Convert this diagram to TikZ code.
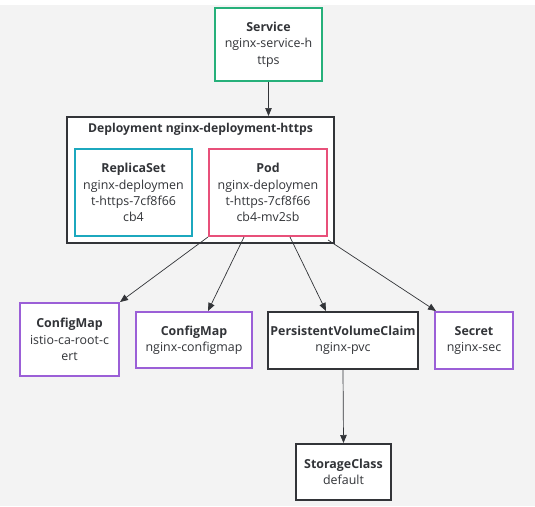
\documentclass[tikz,border=0pt]{standalone}
\usepackage{fontspec}
\setmainfont{Open Sans}
\usetikzlibrary{arrows.meta}
\definecolor{bg}{RGB}{243,243,243}
\definecolor{txt}{RGB}{50,52,56}
\definecolor{dark}{RGB}{50,52,56}
\definecolor{svcgreen}{RGB}{38,176,122}
\definecolor{rsteal}{RGB}{28,168,190}
\definecolor{podpink}{RGB}{232,80,122}
\definecolor{cmpurple}{RGB}{155,95,215}
\tikzset{
  box/.style={draw, line width=2pt, fill=white, text=txt, align=center,
    inner sep=0pt, font=\fontsize{12.4}{16.3}\selectfont},
  conn/.style={draw=dark, line width=0.7pt, -{Triangle[length=8pt,width=6.5pt]}},
}
\begin{document}
\begin{tikzpicture}[x=1pt,y=-1pt]
\fill[bg] (0,0) rectangle (535,506);
\fill[white] (0,0) rectangle (535,5);
\useasboundingbox (0,0) rectangle (535,506);

\node[box, draw=svcgreen, minimum width=107pt, minimum height=73pt] (svc) at (268.5,44.5)
  {\textbf{Service}\\nginx-service-h\\ttps};

\node[box, draw=dark, minimum width=267pt, minimum height=126pt] (dep) at (200.5,180) {};
\node[text=txt, font=\fontsize{12.2}{16}\selectfont\bfseries, inner sep=0pt] (deptitle) at (200.5,129.5)
  {Deployment nginx-deployment-https};

\node[box, draw=rsteal, minimum width=117pt, minimum height=87pt] (rs) at (133.5,192.5)
  {\textbf{ReplicaSet}\\nginx-deploymen\\t-https-7cf8f66\\cb4};
\node[box, draw=podpink, minimum width=118pt, minimum height=87pt] (pod) at (268,192.5)
  {\textbf{Pod}\\nginx-deploymen\\t-https-7cf8f66\\cb4-mv2sb};

\node[box, draw=cmpurple, minimum width=99pt, minimum height=73pt] (cm1) at (69.5,339.5)
  {\textbf{ConfigMap}\\istio-ca-root-c\\ert};
\node[box, draw=cmpurple, minimum width=116pt, minimum height=56pt] (cm2) at (194,340)
  {\textbf{ConfigMap}\\nginx-configmap};
\node[box, draw=dark, minimum width=150pt, minimum height=57pt] (pvc) at (343,340.5)
  {\textbf{PersistentVolumeClaim}\\nginx-pvc};
\node[box, draw=cmpurple, minimum width=78pt, minimum height=57pt] (sec) at (474,340.5)
  {\textbf{Secret}\\nginx-sec};
\node[box, draw=dark, minimum width=95pt, minimum height=56pt] (sc) at (343.5,472)
  {\textbf{StorageClass}\\default};

\draw[conn] (svc.south) -- (svc.south |- dep.north);
\draw[conn] (pod.south west) -- (cm1.north east);
\draw[conn] ([xshift=36pt]pod.south west) -- ([xshift=73pt]cm2.north west);
\draw[conn] ([xshift=82pt]pod.south west) -- ([xshift=59pt]pvc.north west);
\draw[conn] ([yshift=-3pt]pod.south east) -- ([xshift=2pt]sec.north west);
\draw[conn] (pvc.south) -- (sc.north);
\end{tikzpicture}
\end{document}
